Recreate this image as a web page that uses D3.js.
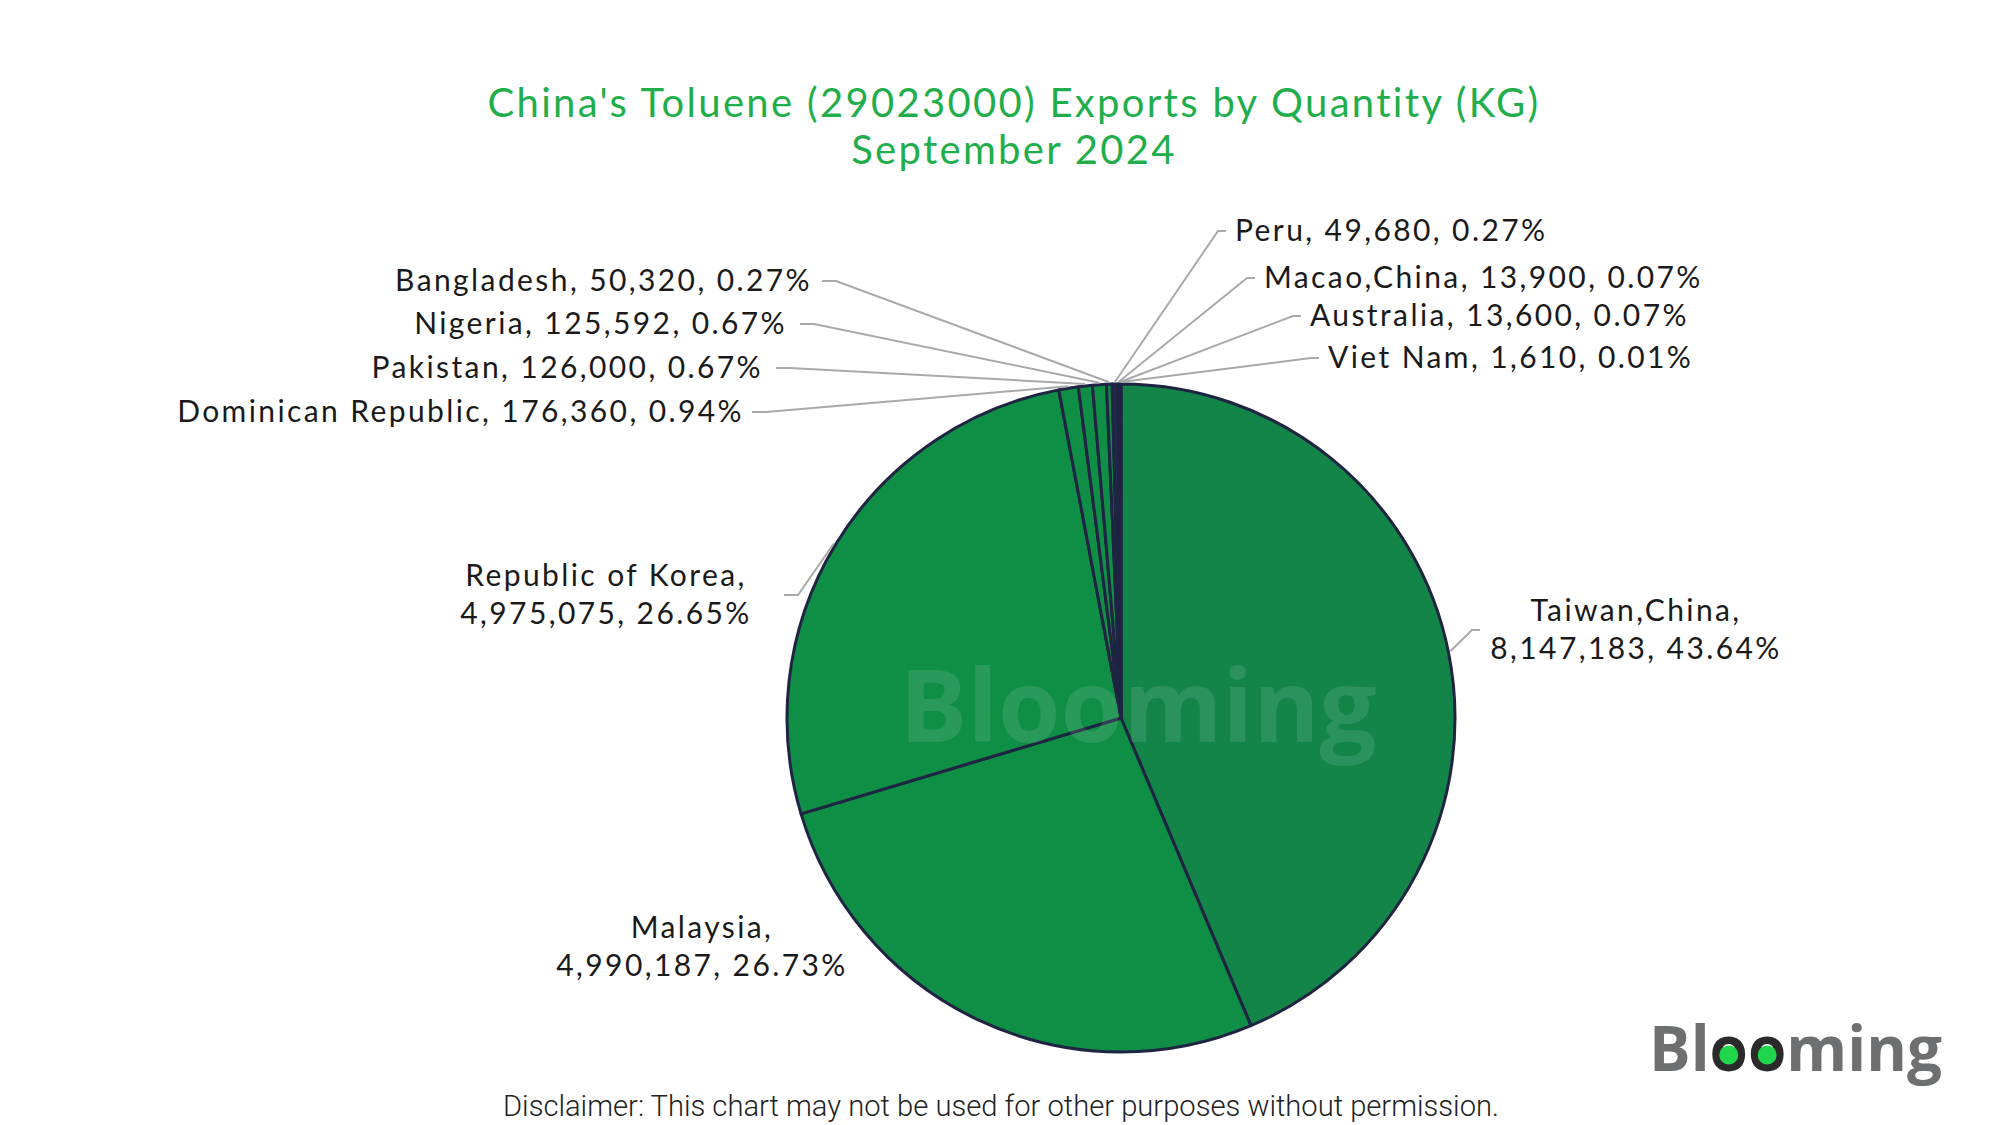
<!DOCTYPE html>
<html>
<head>
<meta charset="utf-8">
<script src="https://cdn.jsdelivr.net/npm/d3@7"></script>
<style>
  html, body { margin: 0; padding: 0; background: #ffffff; }
  svg { display: block; }
</style>
</head>
<body>
<svg id="chart" width="2000" height="1125"></svg>
<script>
// ---- data ----
const countries = ["Taiwan,China", "Malaysia", "Republic of Korea", "Dominican Republic", "Pakistan", "Nigeria", "Bangladesh", "Peru", "Macao,China", "Australia", "Viet Nam"];
const quantities = [8147183, 4990187, 4975075, 176360, 126000, 125592, 50320, 49680, 13900, 13600, 1610];
const shares = ["43.64%", "26.73%", "26.65%", "0.94%", "0.67%", "0.67%", "0.27%", "0.27%", "0.07%", "0.07%", "0.01%"];
const titleLines = ["China's Toluene (29023000) Exports by Quantity (KG)", "September 2024"];
const disclaimer = "Disclaimer: This chart may not be used for other purposes without permission.";

// ---- layout (positions / styles only) ----
const W = 2000, H = 1125;
const cx = 1121, cy = 718, R = 334;
const sliceColors = ["#138549", "#0f8e45", "#0f8e45", "#0f8e45", "#0f8e45", "#0f8e45", "#0f8e45", "#272a4c", "#272a4c", "#272a4c", "#272a4c"];
const labelLayout = {
  "Taiwan,China":       {x: 1636, y: 630, anchor: "middle", two: true,  leader: "right", lx: 1480},
  "Malaysia":           {x: 702,  y: 947, anchor: "middle", two: true,  leader: "none"},
  "Republic of Korea":  {x: 606,  y: 595, anchor: "middle", two: true,  leader: "left", lx: 784},
  "Dominican Republic": {x: 744,  y: 412, anchor: "end",    two: false, leader: "left", lx: 752},
  "Pakistan":           {x: 763,  y: 368, anchor: "end",    two: false, leader: "left", lx: 776},
  "Nigeria":            {x: 787,  y: 324, anchor: "end",    two: false, leader: "left", lx: 800},
  "Bangladesh":         {x: 812,  y: 281, anchor: "end",    two: false, leader: "left", lx: 822},
  "Peru":               {x: 1235, y: 231, anchor: "start",  two: false, leader: "right", lx: 1226},
  "Macao,China":        {x: 1264, y: 278, anchor: "start",  two: false, leader: "right", lx: 1255},
  "Australia":          {x: 1310, y: 316, anchor: "start",  two: false, leader: "right", lx: 1301},
  "Viet Nam":           {x: 1328, y: 358, anchor: "start",  two: false, leader: "right", lx: 1319}
};

const labelFont = "Lato, 'Noto Sans', sans-serif";
const svg = d3.select("#chart");
svg.append("rect").attr("width", W).attr("height", H).attr("fill", "#ffffff");

// title
const title = svg.append("g");
titleLines.forEach((t, i) => {
  title.append("text")
    .attr("x", 1014).attr("y", 117 + i * 47)
    .attr("text-anchor", "middle")
    .attr("font-family", labelFont)
    .attr("font-size", 40)
    .attr("letter-spacing", 2.3)
    .attr("fill", "#1fae4b")
    .text(t);
});

const data = countries.map((c, i) => ({name: c, value: quantities[i], share: shares[i], color: sliceColors[i]}));
const fmt = d3.format(",");

const pie = d3.pie().sort(null).value(d => d.value);
const arcs = pie(data);
const arc = d3.arc().innerRadius(0).outerRadius(R);
const outer = d3.arc().innerRadius(R + 2).outerRadius(R + 2);

const g = svg.append("g").attr("transform", `translate(${cx},${cy})`);
g.selectAll("path.slice").data(arcs).join("path")
  .attr("class", "slice")
  .attr("d", arc)
  .attr("fill", d => d.data.color)
  .attr("stroke", "#1e2442")
  .attr("stroke-width", 3)
  .attr("stroke-linejoin", "round");

// watermark
svg.append("text")
  .attr("x", 1138).attr("y", 742)
  .attr("text-anchor", "middle")
  .attr("font-family", "'Open Sans', sans-serif")
  .attr("font-weight", 700)
  .attr("font-size", 101)
  .attr("fill", "#ffffff")
  .attr("fill-opacity", 0.11)
  .text("Blooming");

// leaders & labels
const leaders = svg.append("g");
const labels = svg.append("g");
arcs.forEach(a => {
  const L = labelLayout[a.data.name];
  const [ox, oy] = outer.centroid(a);
  const px = cx + ox, py = cy + oy;
  if (L.leader === "left") {
    const pts = [[L.lx, L.y], [L.lx + 14, L.y], [px, py]];
    leaders.append("path").attr("d", d3.line()(pts))
      .attr("fill", "none").attr("stroke", "#a9a9a9").attr("stroke-width", 2);
  } else if (L.leader === "right") {
    const pts = [[px, py], [L.lx - 8, L.y], [L.lx, L.y]];
    leaders.append("path").attr("d", d3.line()(pts))
      .attr("fill", "none").attr("stroke", "#a9a9a9").attr("stroke-width", 2);
  }
  const t = labels.append("text")
    .attr("font-family", labelFont)
    .attr("font-size", 30)
    .attr("letter-spacing", 2.4)
    .attr("fill", "#1a1a1a")
    .attr("text-anchor", L.anchor);
  if (L.two) {
    t.append("tspan").attr("x", L.x).attr("y", L.y - 19 + 10).text(a.data.name + ",");
    t.append("tspan").attr("x", L.x).attr("y", L.y + 19 + 10).text(fmt(a.data.value) + ", " + a.data.share);
  } else {
    t.attr("x", L.x).attr("y", L.y + 10)
      .text(a.data.name + ", " + fmt(a.data.value) + ", " + a.data.share);
  }
});

// logo
const logo = svg.append("g");
const lt = logo.append("text")
  .attr("x", 1649).attr("y", 1071)
  .attr("font-family", "'Open Sans', sans-serif")
  .attr("font-weight", 700)
  .attr("font-size", 62)
  .attr("fill", "#6d6f71");
lt.append("tspan").text("Bl");
lt.append("tspan").attr("fill", "#2a2a2a").text("oo");
lt.append("tspan").text("ming");
const node = lt.node();
[2, 3].forEach(i => {
  const ext = node.getExtentOfChar(i);
  logo.append("circle")
    .attr("cx", ext.x + ext.width / 2).attr("cy", 1071 - 16)
    .attr("r", 9.5).attr("fill", "#1ed54c");
});

// disclaimer
svg.append("text")
  .attr("x", 1001).attr("y", 1116)
  .attr("text-anchor", "middle")
  .attr("font-family", "Roboto, sans-serif")
  .attr("font-weight", 300)
  .attr("font-size", 30)
  .attr("fill", "#222")
  .attr("textLength", 996)
  .attr("lengthAdjust", "spacingAndGlyphs")
  .text(disclaimer);
</script>
</body>
</html>
